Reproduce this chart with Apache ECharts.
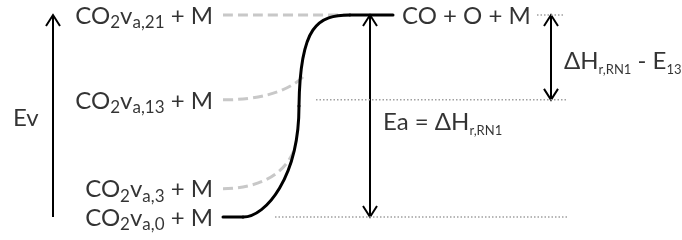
<!DOCTYPE html>
<html>
<head>
<meta charset="utf-8">
<script src="https://cdn.jsdelivr.net/npm/echarts@6/dist/echarts.min.js"></script>
<style>
  html, body { margin: 0; padding: 0; background: #fff; }
  #chart { width: 682px; height: 240px; }
</style>
</head>
<body>
<div id="chart"></div>
<script>
// 能级名称（由低到高）
const levelNames = [
  'CO{s|2}v{s|a,0} + M',
  'CO{s|2}v{s|a,3} + M',
  'CO{s|2}v{s|a,13} + M',
  'CO{s|2}v{s|a,21} + M'
];
// 能级能量（以 ΔH_r,RN1 = 1 计）
const levelEnergy = [0, 0.14, 0.58, 1];

// 曲线段（三次贝塞尔）：[x0, E0, 控制点1 x, E, 控制点2 x, E, x1, E1, 类型]  类型 1 = 灰色虚线, 0 = 黑色实线
const curves = [
  [223, 1, 260, 1, 310, 1, 350, 1, 1],
  [223, 0.58, 255, 0.58, 285, 0.61, 303, 0.693, 1],
  [223, 0.14, 255, 0.14, 285, 0.2, 295, 0.342, 1],
  [223, 0, 233, 0, 238, 0, 243, 0, 0],
  [243, 0, 266, 0, 299, 0.2, 299, 0.55, 0],
  [299, 0.55, 300, 0.95, 318, 1, 350, 1, 0],
  [350, 1, 365, 1, 380, 1, 393, 1, 0]
];

// 点线参考线 [起点x, 终点x, 能量]
const dotted = [[537, 565, 1], [316, 567, 0.58], [275, 567, 0]];

// 箭头 [x, 低能量, 高能量, 上端箭头, 下端箭头]
const arrows = [[53, 0, 1, 1, 0], [370, 0, 1, 1, 1], [551, 0.58, 1, 1, 1]];

// 其他文字 [内容, x, 能量]
const notes = [
  ['CO + O + M', 402, 1],
  ['Ea = ΔH{r|r,RN1}', 383, 0.475],
  ['ΔH{r|r,RN1} - E{r|13}', 564, 0.777],
  ['Ev', 13, 0.495]
];

(function () {
  let myChart = echarts.init(document.getElementById('chart'));
  const font = 'Lato';
  const ink = '#000';
  const rich = {
    s: { fontFamily: font, fontSize: 17, lineHeight: 14, verticalAlign: 'bottom', color: ink },
    r: { fontFamily: font, fontSize: 13, lineHeight: 10, verticalAlign: 'bottom', color: ink }
  };
  const textStyle = { fontFamily: font, fontSize: 24, lineHeight: 30, color: ink, rich: rich };

  // 贝塞尔曲线
  function renderCurve(params, api) {
    const p = [0, 2, 4, 6].map(i => api.coord([api.value(i), api.value(i + 1)]));
    const dashed = api.value(8) === 1;
    return {
      type: 'bezierCurve',
      shape: {
        x1: p[0][0], y1: p[0][1],
        cpx1: p[1][0], cpy1: p[1][1],
        cpx2: p[2][0], cpy2: p[2][1],
        x2: p[3][0], y2: p[3][1]
      },
      style: {
        stroke: dashed ? '#c8c8c8' : '#000',
        fill: null,
        lineWidth: 3,
        lineDash: dashed ? [10, 5] : null,
        lineCap: dashed ? 'butt' : 'round'
      }
    };
  }

  // 箭头
  function renderArrow(params, api) {
    const a = api.coord([api.value(0), api.value(1)]);
    const b = api.coord([api.value(0), api.value(2)]);
    const st = { stroke: '#000', fill: null, lineWidth: 2 };
    const head = (p, dir) => ({
      type: 'polyline',
      shape: { points: [[p[0] - 7, p[1] + dir * 11], [p[0], p[1]], [p[0] + 7, p[1] + dir * 11]] },
      style: st
    });
    const children = [{ type: 'line', shape: { x1: a[0], y1: a[1], x2: b[0], y2: b[1] }, style: st }];
    if (api.value(3)) children.push(head(b, 1));
    if (api.value(4)) children.push(head(a, -1));
    return { type: 'group', children: children };
  }

  let option = {
    backgroundColor: '#fff',
    animation: false,
    grid: { left: 0, right: 0, top: 0, bottom: 0 },
    xAxis: { type: 'value', min: 0, max: 682, show: false },
    yAxis: { type: 'value', min: -23 / 202, max: 217 / 202, show: false },
    series: [
      // 点线
      ...dotted.map(d => ({
        type: 'line', symbol: 'none',
        data: [[d[0], d[2]], [d[1], d[2]]],
        lineStyle: { color: '#a0a0a0', width: 1.5, type: [1.5, 2] }
      })),
      // 反应路径
      {
        type: 'custom', renderItem: renderCurve, clip: false,
        encode: { x: [0, 2, 4, 6], y: [1, 3, 5, 7] },
        data: curves
      },
      // 箭头
      {
        type: 'custom', renderItem: renderArrow, clip: false,
        encode: { x: 0, y: [1, 2] },
        data: arrows
      },
      // 左侧能级文字
      {
        type: 'scatter', symbolSize: 0,
        data: levelEnergy.map((e, i) => ({ value: [213, e], label: { formatter: levelNames[i] } })),
        label: Object.assign({ show: true, position: 'left', distance: 0, offset: [0, 1] }, textStyle)
      },
      // 其他文字
      {
        type: 'scatter', symbolSize: 0,
        data: notes.map(n => ({ value: [n[1], n[2]], label: { formatter: n[0] } })),
        label: Object.assign({ show: true, position: 'right', distance: 0, offset: [0, 1] }, textStyle)
      }
    ]
  };

  myChart.setOption(option);
})();
</script>
</body>
</html>
